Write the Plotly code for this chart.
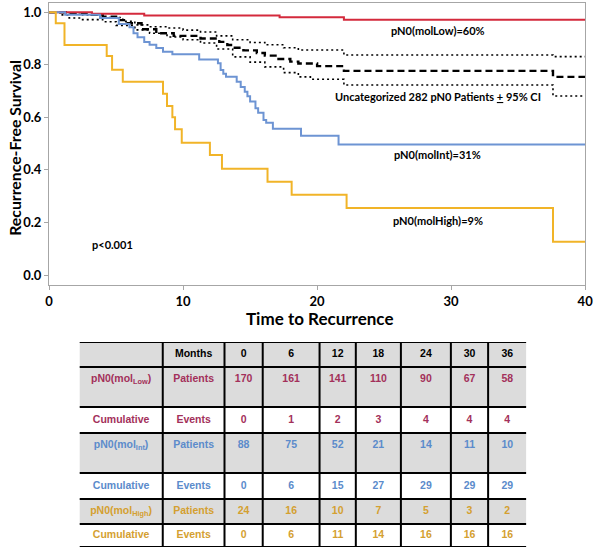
import plotly.graph_objects as go

# ---------------- data ----------------
t_low = [0, 3.2, 7.1, 17.2, 22.0, 40]
s_low = [1.0, 0.994, 0.988, 0.981, 0.971, 0.971]

t_int = [0, 1.2, 3.8, 5.2, 6.0, 6.3, 6.6, 7.1, 7.5, 8.0, 8.5, 9.2, 11.2, 12.6, 12.8, 13.0,
         13.2, 14.0, 14.3, 14.6, 14.8, 15.0, 15.4, 15.6, 16.0, 16.2, 16.7, 18.8, 21.6, 40]
s_int = [1.0, 0.99, 0.978, 0.955, 0.943, 0.92, 0.905, 0.887, 0.876, 0.864, 0.85, 0.84, 0.82,
         0.806, 0.78, 0.766, 0.754, 0.735, 0.715, 0.697, 0.68, 0.66, 0.635, 0.617, 0.59,
         0.579, 0.557, 0.53, 0.497, 0.497]

t_high = [0, 0.5, 1.15, 4.3, 4.7, 5.5, 8.5, 8.8, 9.2, 9.4, 9.9, 12.0, 12.9, 16.3, 18.1, 22.2, 37.6, 40]
s_high = [1.0, 0.958, 0.875, 0.833, 0.781, 0.735, 0.69, 0.643, 0.6, 0.555, 0.503, 0.457,
          0.404, 0.355, 0.305, 0.255, 0.127, 0.127]

t_all = [0, 1.5, 3.0, 4.0, 5.0, 5.8, 6.9, 8.0, 9.3, 11.3, 12.7, 13.3, 13.7, 14.5, 15.5, 16.1,
         17.0, 18.0, 18.6, 20.0, 22.0, 37.6, 40]
s_all = [1.0, 0.995, 0.99, 0.983, 0.97, 0.958, 0.935, 0.92, 0.91, 0.9, 0.887, 0.875, 0.865,
         0.855, 0.845, 0.835, 0.822, 0.812, 0.805, 0.795, 0.777, 0.754, 0.754]

t_upper = [0, 1.0, 2.5, 4.0, 5.5, 6.4, 7.5, 8.8, 10.0, 11.3, 12.5, 13.7, 15.0, 16.1, 17.5,
           18.6, 22.0, 37.6, 40]
s_upper = [1.0, 0.998, 0.99, 0.98, 0.965, 0.952, 0.945, 0.94, 0.932, 0.925, 0.91, 0.895,
           0.885, 0.876, 0.865, 0.856, 0.837, 0.831, 0.831]

t_lower = [0, 0.8, 1.5, 2.5, 4.0, 5.0, 6.4, 7.5, 8.8, 10.0, 11.3, 12.5, 13.7, 15.0, 16.1,
           17.5, 18.6, 19.5, 22.0, 37.6, 40]
s_lower = [1.0, 0.99, 0.978, 0.972, 0.964, 0.95, 0.933, 0.92, 0.906, 0.895, 0.883, 0.86,
           0.83, 0.81, 0.792, 0.77, 0.754, 0.745, 0.723, 0.681, 0.681]

months = [0, 6, 12, 18, 24, 30, 36]
low_patients = [170, 161, 141, 110, 90, 67, 58]
low_events = [0, 1, 2, 3, 4, 4, 4]
int_patients = [88, 75, 52, 21, 14, 11, 10]
int_events = [0, 6, 15, 27, 29, 29, 29]
high_patients = [24, 16, 10, 7, 5, 3, 2]
high_events = [0, 6, 11, 14, 16, 16, 16]

row_groups = ["pN0(mol<sub>Low</sub>)", "Cumulative", "pN0(mol<sub>Int</sub>)", "Cumulative",
              "pN0(mol<sub>High</sub>)", "Cumulative"]
row_kinds = ["Patients", "Events", "Patients", "Events", "Patients", "Events"]
header_first = ["", "Months"]

# ---------------- styles ----------------
RED = "#d42a3c"
BLUE = "#6d94d3"
YELLOW = "#f1b428"
T_LOW = "#a3305a"
T_INT = "#5b8bcb"
T_HIGH = "#d4a030"
GRAY = "#dcdcdc"
AXC = "#a6a6a6"
W, H = 600, 548

fig = go.Figure()

def step(x, y, color, width=2, dash=None):
    fig.add_trace(go.Scatter(x=x, y=y, mode="lines", hoverinfo="skip",
                             line=dict(shape="hv", color=color, width=width, dash=dash),
                             showlegend=False, xaxis="x", yaxis="y"))

step(t_upper, s_upper, "black", 1.6, "2px,3px")
step(t_lower, s_lower, "black", 1.6, "2px,3px")
step(t_all, s_all, "black", 2.4, "7px,4px")
step(t_low, s_low, RED, 2)
step(t_int, s_int, BLUE, 2)
step(t_high, s_high, YELLOW, 2)

# ---------------- table (own axes x2/y2 in pixel-like units) ----------------
col_w = [85, 63, 39, 58, 37, 46, 51, 38, 39]
row_h = [25, 40, 26, 40, 26, 25, 23]
tall = [False, True, False, True, False, False, False]
col_edges = [sum(col_w[:i]) for i in range(len(col_w) + 1)]
row_edges = [sum(row_h[:i]) for i in range(len(row_h) + 1)]
col_mid = [(col_edges[i] + col_edges[i + 1]) / 2 for i in range(len(col_w))]
row_text_y = [row_edges[i] + (12.5 if tall[i] else row_h[i] / 2) for i in range(len(row_h))]

row_fill = [GRAY, GRAY, "white", GRAY, "white", GRAY, "white"]
row_color = ["black", T_LOW, T_LOW, T_INT, T_INT, T_HIGH, T_HIGH]

table_rows = [header_first + months]
data_rows = [low_patients, low_events, int_patients, int_events, high_patients, high_events]
for g, k, vals in zip(row_groups, row_kinds, data_rows):
    table_rows.append([g, k] + vals)

tx, ty, tt, tc = [], [], [], []
for r, row in enumerate(table_rows):
    for c, v in enumerate(row):
        if v == "":
            continue
        tx.append(col_mid[c])
        ty.append(row_text_y[r])
        tt.append("<b>%s</b>" % v)
        tc.append(row_color[r])

fig.add_trace(go.Scatter(x=tx, y=ty, text=tt, mode="text", hoverinfo="skip",
                         textposition="middle center", showlegend=False,
                         textfont=dict(family="Liberation Sans", size=10.5, color=tc),
                         xaxis="x2", yaxis="y2"))

shapes = []
for r in range(len(row_h)):
    shapes.append(dict(type="rect", xref="x2", yref="y2", x0=0, x1=col_edges[-1],
                       y0=row_edges[r], y1=row_edges[r + 1], fillcolor=row_fill[r],
                       line=dict(width=0), layer="below"))
for yb in row_edges:
    shapes.append(dict(type="line", xref="x2", yref="y2", x0=0, x1=col_edges[-1],
                       y0=yb, y1=yb, line=dict(color="black", width=2)))
for xb in col_edges[1:-1]:
    shapes.append(dict(type="line", xref="x2", yref="y2", x0=xb, x1=xb,
                       y0=0, y1=row_edges[-1], line=dict(color="black", width=2)))

# ---------------- layout ----------------
axis_common = dict(showline=True, mirror=True, linecolor=AXC, linewidth=1.3,
                   ticks="outside", ticklen=4, tickcolor=AXC, showgrid=False,
                   zeroline=False, ticklabeloverflow="allow",
                   tickfont=dict(family="Lato", size=13, color="black", weight="bold"))

fig.update_layout(
    width=W, height=H, margin=dict(l=0, r=0, t=0, b=0),
    paper_bgcolor="white", plot_bgcolor="white", showlegend=False,
    xaxis=dict(domain=[46 / W, 593 / W], range=[0, 40], tickvals=[0, 10, 20, 30, 40],
               **axis_common),
    yaxis=dict(domain=[1 - 285 / H, 1 - 2.5 / H], range=[-0.038, 1.037],
               tickvals=[0, 0.2, 0.4, 0.6, 0.8, 1.0], tickformat=".1f", **axis_common),
    xaxis2=dict(domain=[77 / W, 533 / W], range=[0, col_edges[-1]], visible=False,
                fixedrange=True),
    yaxis2=dict(domain=[1 - 547 / H, 1 - 342 / H], range=[row_edges[-1], 0], visible=False,
                fixedrange=True),
    shapes=shapes,
)

lab_font = dict(family="Lato", size=11, color="black")
labels = [
    (29.0, 0.929, "<b>pN0(molLow)=60%</b>"),
    (29.0, 0.678, "<b>Uncategorized 282 pN0 Patients <u>+</u> 95% CI</b>"),
    (29.0, 0.457, "<b>pN0(molInt)=31%</b>"),
    (29.0, 0.209, "<b>pN0(molHigh)=9%</b>"),
]
for x, y, txt in labels:
    fig.add_annotation(x=x, y=y, xref="x", yref="y", text=txt, showarrow=False,
                       font=lab_font, xanchor="center", yanchor="middle")
fig.add_annotation(x=3.07, y=0.118, xref="x", yref="y", text="<b>p<0.001</b>",
                   showarrow=False, font=lab_font, xanchor="left", yanchor="middle")

# axis titles
fig.add_annotation(x=322 / W, y=1 - 318.5 / H, xref="paper", yref="paper",
                   text="<b>Time to Recurrence</b>", showarrow=False,
                   font=dict(family="Lato", size=17, color="black"),
                   xanchor="center", yanchor="middle")
fig.add_annotation(x=10 / W, y=1 - 148 / H, xref="paper", yref="paper",
                   text="<b>Recurrence-Free Survival</b>", showarrow=False, textangle=-90,
                   font=dict(family="Lato", size=15.8, color="black"),
                   xanchor="center", yanchor="middle")

fig.write_html("out.html", config={"displayModeBar": False},
               post_script="document.body.style.margin='0';")
